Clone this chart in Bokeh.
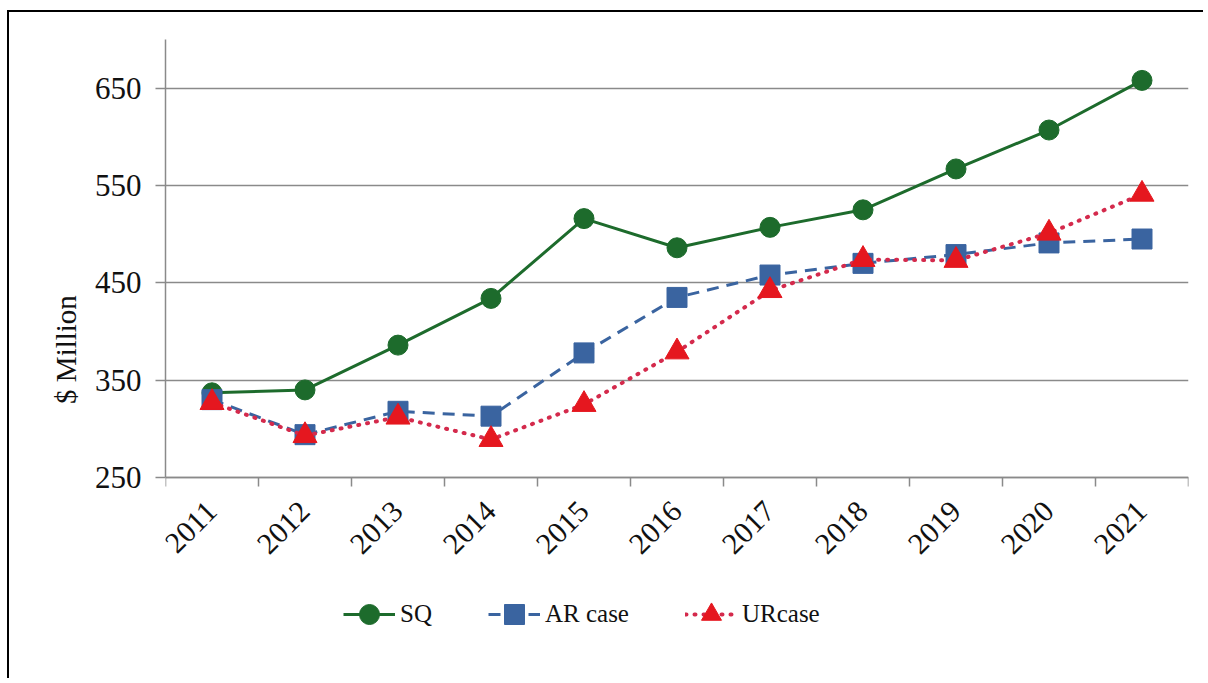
import math
from bokeh.plotting import figure
from bokeh.models import FixedTicker, Legend, LegendItem, Range1d
from bokeh.embed import file_html
from bokeh.resources import INLINE

years = [2011, 2012, 2013, 2014, 2015, 2016, 2017, 2018, 2019, 2020, 2021]
sq = [337, 340, 386, 434, 516, 486, 507, 525, 567, 607, 658]
ar = [330, 294, 318, 313, 378, 435, 458, 470, 479, 491, 495]
ur = [327, 293, 312, 289, 325, 379, 442, 474, 473, 501, 541]
y_ticks = [250, 350, 450, 550, 650]
y_min, y_max = 250, 700

FONT = "Times New Roman"
GREEN = "#1D6B2C"
BLUE = "#3A64A0"
RED = "#E5171F"
DOT = "#D42A4C"
GRID = "#8A8A8A"

p = figure(width=1196, height=668, output_backend="svg", toolbar_location=None,
           x_range=Range1d(years[0] - 0.5, years[-1] + 0.5), y_range=Range1d(63, y_max),
           min_border_left=156, min_border_right=17, min_border_top=27, min_border_bottom=21,
           styles={"border-top": "2px solid black", "border-left": "2px solid black",
                   "margin-left": "7px", "margin-top": "10px"})
p.outline_line_color = None
p.background_fill_color = "white"

p.xgrid.grid_line_color = None
p.ygrid.ticker = FixedTicker(ticks=y_ticks)
p.ygrid.grid_line_color = GRID
p.ygrid.grid_line_width = 1.5

p.yaxis.ticker = FixedTicker(ticks=y_ticks)
p.yaxis.bounds = (y_min, y_max)
p.yaxis.axis_line_color = GRID
p.yaxis.axis_line_width = 1.5
p.yaxis.major_tick_line_color = GRID
p.yaxis.major_tick_line_width = 1.5
p.yaxis.major_tick_out = 10
p.yaxis.major_tick_in = 0
p.yaxis.minor_tick_line_color = None
p.yaxis.major_label_text_font = FONT
p.yaxis.major_label_text_font_size = "31px"
p.yaxis.major_label_text_color = "#111111"
p.yaxis.major_label_standoff = 14
p.yaxis.axis_label = "$ Million"
p.yaxis.axis_label_text_font = FONT
p.yaxis.axis_label_text_font_size = "29px"
p.yaxis.axis_label_text_font_style = "normal"
p.yaxis.axis_label_text_color = "#111111"
p.yaxis.axis_label_standoff = 10

bounds = [y - 0.5 for y in years] + [years[-1] + 0.5]
p.xaxis.fixed_location = y_min
p.xaxis.ticker = FixedTicker(ticks=years, minor_ticks=bounds)
p.xaxis.axis_line_color = GRID
p.xaxis.axis_line_width = 1.5
p.xaxis.major_tick_line_color = None
p.xaxis.minor_tick_line_color = GRID
p.xaxis.minor_tick_line_width = 1.5
p.xaxis.minor_tick_out = 9
p.xaxis.minor_tick_in = 0
p.xaxis.major_label_orientation = math.pi / 4
p.xaxis.major_label_text_font = FONT
p.xaxis.major_label_text_font_size = "30px"
p.xaxis.major_label_text_color = "#111111"
p.xaxis.major_label_standoff = 20

l1 = p.line(years, sq, line_color=GREEN, line_width=3)
s1 = p.scatter(years, sq, marker="circle", size=20, fill_color=GREEN, line_color=GREEN)
l2 = p.line(years, ar, line_color=BLUE, line_width=3, line_dash="12 8")
s2 = p.scatter(years, ar, marker="square", size=20, fill_color=BLUE, line_color=BLUE)
l3 = p.line(years, ur, line_color=DOT, line_width=4, line_dash="1 8", line_cap="round")
s3 = p.scatter(years, ur, marker="triangle", size=24, fill_color=RED, line_color=RED)

legend = Legend(items=[LegendItem(label="SQ", renderers=[l1, s1]),
                       LegendItem(label="AR case", renderers=[l2, s2]),
                       LegendItem(label="URcase", renderers=[l3, s3])],
                location=(178, 20), orientation="horizontal",
                label_text_font=FONT, label_text_font_size="25px", label_text_color="#111111",
                glyph_width=52, glyph_height=50, label_height=50, label_standoff=5,
                spacing=56, padding=0, margin=0,
                border_line_color=None, background_fill_alpha=0)
p.add_layout(legend, "center")

open("out.html", "w").write(file_html(p, INLINE))
